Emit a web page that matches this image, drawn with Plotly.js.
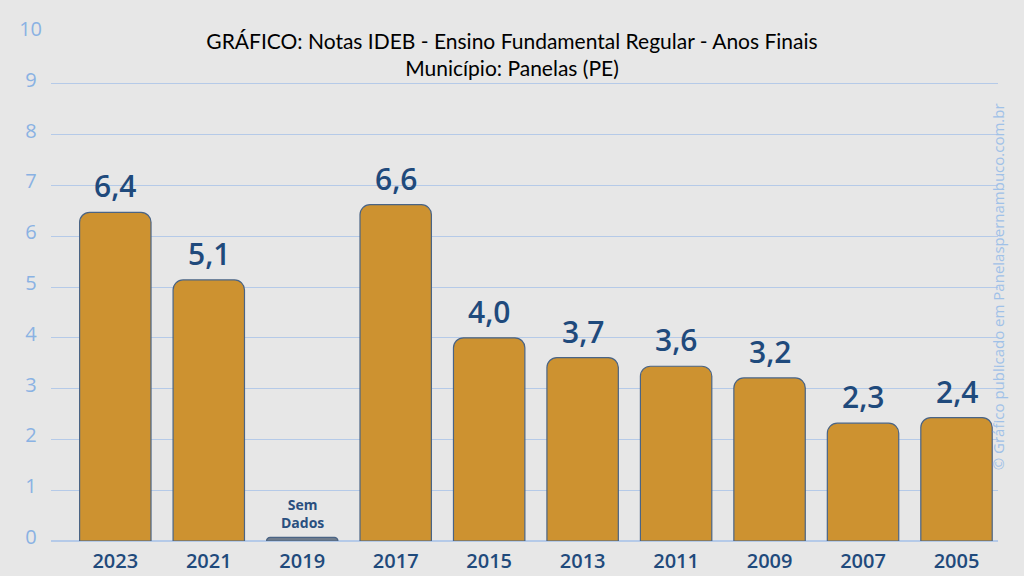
<!DOCTYPE html>
<html>
<head>
<meta charset="utf-8">
<script src="https://cdn.plot.ly/plotly-3.0.1.min.js"></script>
<style>
html,body{margin:0;padding:0;background:#e7e7e7;}
#chart{width:1024px;height:576px;}
</style>
</head>
<body>
<div id="chart"></div>
<script>
// Data
const years = ["2023","2021","2019","2017","2015","2013","2011","2009","2007","2005"];
const barHeights = [6.47, 5.14, 0.07, 6.62, 4.0, 3.61, 3.44, 3.21, 2.32, 2.43];
const labelTexts = ["6,4","5,1","","6,6","4,0","3,7","3,6","3,2","2,3","2,4"];
const noDataYear = "2019";
const noDataText = "Sem<br>Dados";
const yTicks = [0,1,2,3,4,5,6,7,8,9,10];
// single-digit labels padded so they sit centred under the "10"
const yTickText = yTicks.map(v => v < 10 ? String(v) + "\u2008" : String(v));

const barColors = years.map(y => y === noDataYear ? "#6f7c8c" : "#cd9230");

const trace = {
  type: "bar",
  x: years,
  y: barHeights,
  marker: {
    color: barColors,
    line: {color: "#4a6485", width: 1.2},
    cornerradius: 10
  },
  hoverinfo: "skip"
};

const annotations = [];
years.forEach((yr, i) => {
  if (labelTexts[i]) {
    annotations.push({
      x: i, y: barHeights[i], xref: "x", yref: "y",
      text: labelTexts[i], showarrow: false,
      yanchor: "bottom", yshift: 4,
      font: {family: "Open Sans", size: 30, color: "#1f4a7c", weight: 600}
    });
  }
});
const nd = years.indexOf(noDataYear);
annotations.push({
  x: nd, y: barHeights[nd], xref: "x", yref: "y",
  text: noDataText, showarrow: false, yanchor: "bottom", yshift: 3,
  font: {family: "Open Sans", size: 14, color: "#2a4f7f", weight: 700}
});
annotations.push({
  x: 1.013, y: 0.5, xref: "paper", yref: "paper",
  text: "© Gráfico publicado em Panelaspernambuco.com.br",
  showarrow: false, textangle: -90,
  font: {family: "Open Sans", size: 15, color: "#a0c1e8"}
});

const layout = {
  width: 1024, height: 576,
  paper_bgcolor: "#e7e7e7",
  plot_bgcolor: "#e7e7e7",
  margin: {l: 51, r: 26, t: 33, b: 35},
  showlegend: false,
  bargap: 0.236,
  title: {
    text: "GRÁFICO: Notas IDEB - Ensino Fundamental Regular - Anos Finais<br>Município: Panelas (PE)",
    font: {family: "Lato", size: 21, color: "#000000"},
    x: 0.5, xanchor: "center", y: 0.915, yanchor: "top"
  },
  xaxis: {
    type: "category",
    range: [-0.688, 9.444],
    showgrid: false, zeroline: false, showline: false,
    ticks: "",
    ticklabelstandoff: 6,
    tickfont: {family: "Open Sans", size: 20, color: "#1f4a7c", weight: 600}
  },
  yaxis: {
    range: [0, 10],
    tickvals: yTicks,
    ticktext: yTickText,
    showgrid: true, gridcolor: "#b5cae8", gridwidth: 1,
    zeroline: true, zerolinecolor: "#b5cae8", zerolinewidth: 2,
    showline: false, ticks: "",
    ticklabelstandoff: 8,
    ticklabelshift: -4,
    tickfont: {family: "Open Sans", size: 20, color: "#8ab2e3", weight: 500}
  },
  annotations: annotations
};

Plotly.newPlot("chart", [trace], layout, {displayModeBar: false, staticPlot: true});
</script>
</body>
</html>
